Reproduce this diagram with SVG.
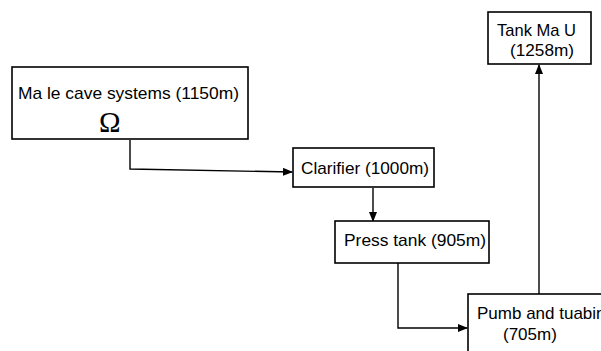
<svg xmlns="http://www.w3.org/2000/svg" width="601" height="351" viewBox="0 0 601 351">
<defs>
<marker id="ah" markerWidth="10" markerHeight="8" refX="9" refY="4" orient="auto" markerUnits="userSpaceOnUse">
<path d="M0,0 L10,4 L0,8 Z" fill="#000"/>
</marker>
<style>
.box{fill:#fff;stroke:#000;stroke-width:1.6}
.t{font-family:"Liberation Sans",Arial,sans-serif;font-size:17px;fill:#000}
.c{fill:none;stroke:#000;stroke-width:1.4;marker-end:url(#ah)}
</style>
</defs>
<rect width="601" height="351" fill="#fff"/>
<g id="connectors">
<path class="c" d="M130,140 V169 L292,172"/>
<path class="c" d="M373,188 V221"/>
<path class="c" d="M398,263 V328 H467"/>
<path class="c" d="M539,294 V65"/>
</g>
<g id="cave">
<rect class="box" x="12" y="67" width="236" height="72"/>
<text class="t" x="18" y="99" textLength="221" lengthAdjust="spacingAndGlyphs">Ma le cave systems (1150m)</text>
<text x="99" y="132" style="font-family:'Liberation Serif',serif;font-size:29px">Ω</text>
</g>
<g id="clarifier">
<rect class="box" x="293" y="148" width="141" height="39"/>
<text class="t" x="301" y="174" textLength="128" lengthAdjust="spacingAndGlyphs">Clarifier (1000m)</text>
</g>
<g id="press">
<rect class="box" x="335" y="221" width="154" height="42"/>
<text class="t" x="344" y="246" textLength="142" lengthAdjust="spacingAndGlyphs">Press tank (905m)</text>
</g>
<g id="pump">
<rect class="box" x="468" y="294" width="160" height="70"/>
<text class="t" x="477" y="319">Pumb and tuabine</text>
<text class="t" x="503" y="340">(705m)</text>
</g>
<g id="tank">
<rect class="box" x="488" y="12" width="103" height="52"/>
<text class="t" x="497" y="36" textLength="79" lengthAdjust="spacingAndGlyphs">Tank Ma U</text>
<text class="t" x="510" y="56" textLength="64" lengthAdjust="spacingAndGlyphs">(1258m)</text>
</g>
</svg>
